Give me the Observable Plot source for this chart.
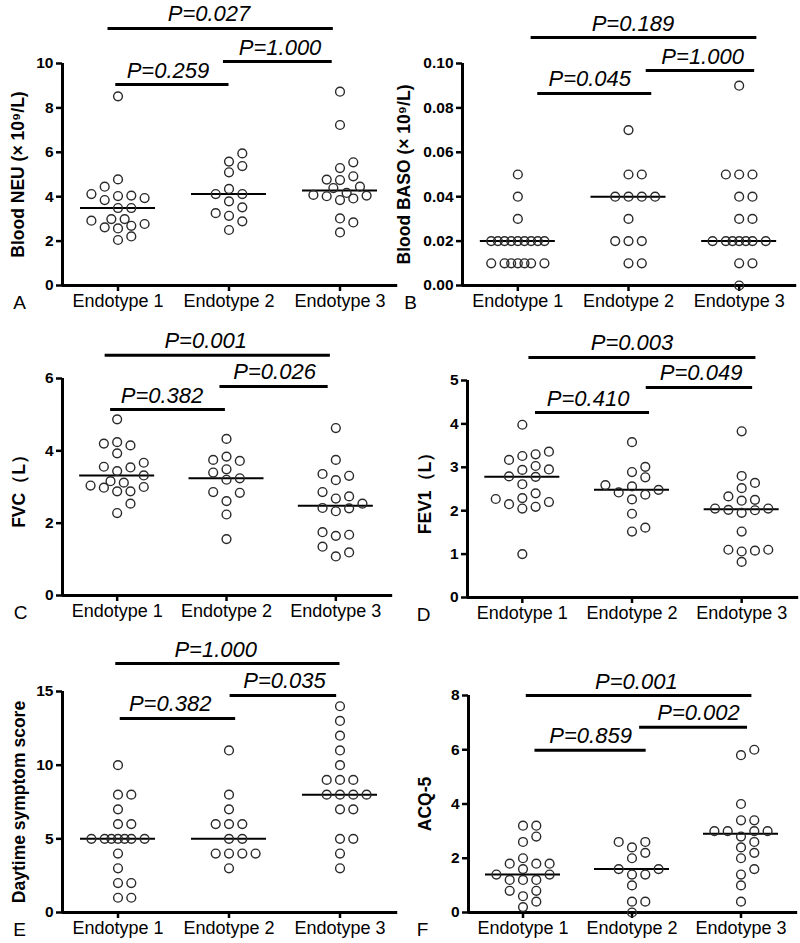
<!DOCTYPE html>
<html><head><meta charset="utf-8">
<script src="https://cdn.jsdelivr.net/npm/d3@7"></script>
<script src="https://cdn.jsdelivr.net/npm/@observablehq/plot@0.6"></script>
<style>
body{margin:0;background:#fff;}
#fig{position:relative;width:800px;height:943px;overflow:hidden;background:#fff;}
.panel{position:absolute;}
</style></head><body><div id="fig"></div>
<script>
const categories = ["Endotype 1", "Endotype 2", "Endotype 3"];

// A: Blood NEU (x10^9/L)
const neuE1 = [8.52, 4.78, 4.45, 4.12, 4.05, 4.03, 3.94, 3.85, 3.49, 3.49, 2.99, 2.99, 2.92, 2.77, 2.69, 2.62, 2.57, 2.21, 2.05];
const neuE2 = [5.95, 5.58, 5.38, 5.10, 4.35, 4.12, 4.12, 3.79, 3.52, 3.26, 3.14, 2.89, 2.50];
const neuE3 = [8.73, 7.23, 5.55, 5.29, 4.92, 4.77, 4.75, 4.45, 4.39, 4.17, 4.08, 4.05, 4.02, 3.92, 3.85, 3.02, 2.84, 2.39];
// B: Blood BASO (x10^9/L)
const basoE1 = [0.05, 0.04, 0.03, 0.02, 0.02, 0.02, 0.02, 0.02, 0.02, 0.02, 0.02, 0.02, 0.01, 0.01, 0.01, 0.01, 0.01, 0.01, 0.01];
const basoE2 = [0.07, 0.05, 0.05, 0.04, 0.04, 0.04, 0.04, 0.03, 0.02, 0.02, 0.02, 0.01, 0.01];
const basoE3 = [0.09, 0.05, 0.05, 0.05, 0.04, 0.04, 0.03, 0.03, 0.02, 0.02, 0.02, 0.02, 0.02, 0.02, 0.02, 0.01, 0.01, 0.00];
// C: FVC (L)
const fvcE1 = [4.87, 4.24, 4.20, 4.15, 3.93, 3.67, 3.56, 3.54, 3.44, 3.32, 3.16, 3.12, 3.04, 3.00, 2.98, 2.88, 2.88, 2.54, 2.28];
const fvcE2 = [4.33, 3.84, 3.75, 3.72, 3.49, 3.40, 3.24, 3.20, 2.86, 2.84, 2.61, 2.24, 1.56];
const fvcE3 = [4.63, 3.75, 3.36, 3.31, 3.19, 2.86, 2.74, 2.68, 2.54, 2.42, 2.41, 2.33, 1.75, 1.68, 1.65, 1.35, 1.19, 1.08];
// D: FEV1 (L)
const fev1E1 = [3.98, 3.36, 3.30, 3.26, 3.17, 3.03, 2.95, 2.94, 2.79, 2.78, 2.61, 2.40, 2.29, 2.27, 2.20, 2.15, 2.09, 2.05, 1.00];
const fev1E2 = [3.58, 3.01, 2.89, 2.77, 2.59, 2.56, 2.48, 2.42, 2.37, 2.26, 1.93, 1.61, 1.52];
const fev1E3 = [3.83, 2.80, 2.64, 2.52, 2.33, 2.25, 2.23, 2.05, 2.05, 2.02, 2.01, 1.95, 1.52, 1.10, 1.10, 1.08, 1.06, 0.82];
// E: Daytime symptom score
const dssE1 = [10, 8, 8, 7, 6, 6, 5, 5, 5, 5, 5, 5, 5, 4, 3, 2, 2, 1, 1];
const dssE2 = [11, 8, 7, 6, 6, 6, 5, 5, 4, 4, 4, 4, 3];
const dssE3 = [14, 13, 12, 11, 10, 9, 9, 9, 8, 8, 8, 8, 7, 7, 5, 5, 4, 3];
// F: ACQ-5
const acqE1 = [3.2, 3.2, 2.8, 2.6, 2.0, 1.8, 1.8, 1.8, 1.6, 1.4, 1.4, 1.2, 1.2, 1.2, 0.8, 0.8, 0.6, 0.4, 0.2];
const acqE2 = [2.6, 2.6, 2.4, 2.2, 2.0, 1.6, 1.6, 1.4, 1.4, 1.0, 0.4, 0.4, 0.0];
const acqE3 = [6.0, 5.8, 4.0, 3.4, 3.4, 3.0, 3.0, 3.0, 3.0, 2.8, 2.6, 2.4, 2.2, 2.0, 1.6, 1.4, 1.0, 0.4];

// P values: [1 vs 2, 2 vs 3, 1 vs 3]
const pA = ["P=0.259", "P=1.000", "P=0.027"];
const pB = ["P=0.045", "P=1.000", "P=0.189"];
const pC = ["P=0.382", "P=0.026", "P=0.001"];
const pD = ["P=0.410", "P=0.049", "P=0.003"];
const pE = ["P=0.382", "P=0.035", "P=1.000"];
const pF = ["P=0.859", "P=0.002", "P=0.001"];

const yLabels = ["Blood NEU (× 10⁹/L)", "Blood BASO (× 10⁹/L)", "FVC（L）", "FEV1（L）", "Daytime symptom score", "ACQ-5"];
const panelLetters = ["A", "B", "C", "D", "E", "F"];
const yTicksA = [0, 2, 4, 6, 8, 10];
const yTicksB = [0, 0.02, 0.04, 0.06, 0.08, 0.10];
const yTicksC = [0, 2, 4, 6];
const yTicksD = [0, 1, 2, 3, 4, 5];
const yTicksE = [0, 5, 10, 15];
const yTicksF = [0, 2, 4, 6, 8];

// layout (positions/sizes) — bracket geometry: [x1, x2, y, labelX]
const panels = [
  {groups: [neuE1, neuE2, neuE3], p: pA, ticks: yTicksA, fmt: d3.format("d"), left: 0, top: 0, h: 315, mt: 63, mb: 30, ml: 62, mr: 5, labX: 18, letX: 19,
   br: [[0.98, 2.0, 9.05, 1.45], [1.95, 2.93, 10.09, 2.46], [0.91, 2.94, 11.58, 1.82]]},
  {groups: [basoE1, basoE2, basoE3], p: pB, ticks: yTicksB, fmt: d3.format(".2f"), left: 400, top: 0, h: 315, mt: 63, mb: 30, ml: 62, mr: 6, labX: 4, letX: 10,
   br: [[1.18, 2.21, 0.0865, 1.65], [2.16, 3.14, 0.0968, 2.67], [1.12, 3.16, 0.1117, 2.04]]},
  {groups: [fvcE1, fvcE2, fvcE3], p: pC, ticks: yTicksC, fmt: d3.format("d"), left: 0, top: 315, h: 310, mt: 63, mb: 30, ml: 62, mr: 10, labX: 19, letX: 20,
   br: [[0.94, 1.99, 5.14, 1.41], [1.94, 2.93, 5.78, 2.44], [0.89, 2.95, 6.64, 1.81]]},
  {groups: [fev1E1, fev1E2, fev1E3], p: pD, ticks: yTicksD, fmt: d3.format("d"), left: 400, top: 315, h: 310, mt: 65, mb: 28, ml: 67, mr: 4, labX: 25, letX: 23,
   br: [[1.12, 2.16, 4.26, 1.60], [2.13, 3.10, 4.84, 2.63], [1.06, 3.13, 5.53, 2.0]]},
  {groups: [dssE1, dssE2, dssE3], p: pE, ticks: yTicksE, fmt: d3.format("d"), left: 0, top: 625, h: 318, mt: 66, mb: 31, ml: 62, mr: 5, labX: 19, letX: 19,
   br: [[1.02, 2.06, 13.17, 1.47], [2.01, 2.97, 14.73, 2.5], [0.98, 3.0, 16.9, 1.88]]},
  {groups: [acqE1, acqE2, acqE3], p: pF, ticks: yTicksF, fmt: d3.format("d"), left: 400, top: 625, h: 318, mt: 70, mb: 31, ml: 68, mr: 5, labX: 25, letX: 22,
   br: [[1.11, 2.13, 5.98, 1.62], [2.07, 3.06, 6.83, 2.61], [1.03, 3.10, 8.0, 2.04]]}
];

const FONT = '"Liberation Sans", Arial, Helvetica, sans-serif';

// simple beeswarm layout computed from the values (pixel space)
function swarm(values, cat, xPx, yPx) {
  const step = 13.3, minD = 10;
  const cands = [0, 1, -1, 2, -2, 0.5, -0.5, 1.5, -1.5];
  const placed = [];
  const order = values.map((v, i) => i).sort((a, b) => values[a] - values[b]);
  const out = [];
  for (const i of order) {
    const py = values[i] * yPx;
    let best = 0, bestD = -1;
    for (const c of cands) {
      const px = c * step;
      let md = Infinity;
      for (const p of placed) md = Math.min(md, Math.hypot(p[0] - px, p[1] - py));
      if (md >= minD) { best = c; bestD = md; break; }
      if (md > bestD) { bestD = md; best = c; }
    }
    placed.push([best * step, py]);
    out.push({cat, value: values[i], xj: cat + best * step / xPx});
  }
  return out;
}

const fig = document.getElementById("fig");
panels.forEach((P, k) => {
  const W = 400;
  const yMax = P.ticks[P.ticks.length - 1];
  const xPx = (W - P.ml - P.mr) / 3;
  const yPx = (P.h - P.mt - P.mb) / yMax;
  const dots = P.groups.flatMap((g, i) => swarm(g, i + 1, xPx, yPx));
  const medians = P.groups.map((g, i) => ({cat: i + 1, m: d3.median(g)}));
  const brackets = P.br.map((b, i) => ({x1: b[0], x2: b[1], y: b[2], tx: b[3], label: P.p[i]}));
  const hw = 37.5 / xPx;

  const plot = Plot.plot({
    width: W, height: P.h,
    marginTop: P.mt, marginBottom: P.mb, marginLeft: P.ml, marginRight: P.mr,
    style: {fontFamily: FONT, background: "white", color: "black", overflow: "visible"},
    x: {type: "linear", domain: [0.5, 3.5], axis: null},
    y: {type: "linear", domain: [0, yMax], axis: null},
    marks: [
      Plot.axisY({ticks: P.ticks, tickFormat: () => "", tickSize: 6, strokeWidth: 2.5, label: null}),
      Plot.text(P.ticks, {x: 0.5, y: d => d, text: d => P.fmt(d), textAnchor: "end", lineAnchor: "middle", dx: -9, fontSize: 15.5, fontWeight: "bold"}),
      Plot.axisX({ticks: [1, 2, 3], tickFormat: i => categories[i - 1], tickSize: 6, tickPadding: 3, fontSize: 18, strokeWidth: 2.5, label: null}),
      Plot.ruleX([0.5], {y1: 0, y2: yMax, strokeWidth: 3}),
      Plot.ruleY([0], {x1: 0.5, x2: 3.52, strokeWidth: 3}),
      Plot.ruleY(medians, {y: "m", x1: d => d.cat - hw, x2: d => d.cat + hw, strokeWidth: 2}),
      Plot.dot(dots, {x: "xj", y: "value", r: 4.4, stroke: "#2a2a2a", strokeWidth: 1.4, fill: "none"}),
      Plot.ruleY(brackets, {y: "y", x1: "x1", x2: "x2", strokeWidth: 3}),
      Plot.text(brackets, {x: "tx", y: "y", text: "label", fontSize: 22, fontStyle: "italic", lineAnchor: "bottom", textAnchor: "middle", dy: -7}),
      Plot.text([yLabels[k]], {text: d => d, frameAnchor: "left", dx: P.labX - P.ml, rotate: -90, fontSize: 17.5, fontWeight: "bold", lineAnchor: "middle", textAnchor: "middle"}),
      Plot.text([panelLetters[k]], {text: d => d, frameAnchor: "bottom-left", dx: P.letX - P.ml, dy: 17, fontSize: 19, lineAnchor: "middle", textAnchor: "middle"})
    ]
  });
  const div = document.createElement("div");
  div.className = "panel";
  div.style.left = P.left + "px";
  div.style.top = P.top + "px";
  div.appendChild(plot);
  fig.appendChild(div);
});
</script>
</body></html>
